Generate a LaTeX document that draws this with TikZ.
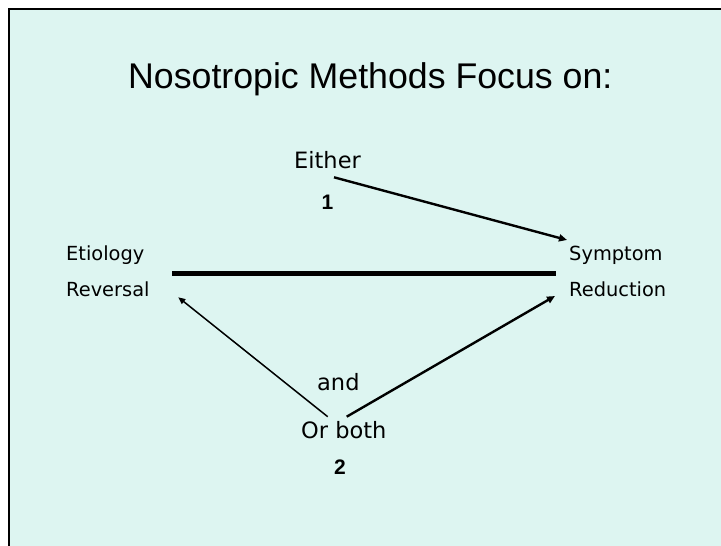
\documentclass[tikz,border=0pt]{standalone}
\usepackage{fontspec}
\setmainfont{Liberation Sans}
\newfontfamily\labelfont{DejaVu Sans}
\usetikzlibrary{arrows.meta}
\definecolor{slidebg}{RGB}{221,245,241}
\tikzset{
  lbl/.style={inner sep=0pt, anchor=base west, font=\labelfont\fontsize{19.4}{22}\selectfont},
  midlbl/.style={inner sep=0pt, anchor=base west, font=\labelfont\fontsize{22.5}{26}\selectfont},
  num/.style={inner sep=0pt, anchor=base, font=\fontsize{21}{24}\selectfont\bfseries},
  arr/.style={-{Triangle[length=8pt,width=7pt]}, line width=2.4pt},
  thinarr/.style={-{Triangle[length=7pt,width=6pt]}, line width=1.5pt}
}
\begin{document}
\begin{tikzpicture}[x=1pt,y=1pt]
\useasboundingbox (0,0) rectangle (721,546);
\fill[slidebg] (9,0) rectangle (721,537);
\draw[line width=2pt] (9,0) -- (9,537) -- (721,537);
\node[inner sep=0pt, anchor=base west, font=\fontsize{35.7}{40}\selectfont] (title) at (128,457) {Nosotropic Methods Focus on:};
\node[lbl] (etio) at (66,285) {Etiology};
\node[lbl] (rev) at (66,249) {Reversal};
\node[lbl] (sym) at (569,285) {Symptom};
\node[lbl] (red) at (569,249) {Reduction};
\node[midlbl] (either) at (294,377) {Either};
\node[num] (one) at (327.5,336) {1};
\node[midlbl] (and) at (317,155.3) {and};
\node[midlbl] (orboth) at (301,107.7) {Or both};
\node[num] (two) at (340,71.7) {2};
\coordinate (lineL) at (172,272.5);
\coordinate (lineR) at (556,272.5);
\coordinate (eitherTail) at (334,368.7);
\coordinate (symTip) at (567,306);
\coordinate (bothL) at (327.7,129.3);
\coordinate (revTip) at (178.3,248.7);
\coordinate (bothR) at (346.7,129.3);
\coordinate (redTip) at (555,250);
\draw[line width=5pt] (lineL) -- (lineR);
\draw[arr] (eitherTail) -- (symTip);
\draw[thinarr] (bothL) -- (revTip);
\draw[arr] (bothR) -- (redTip);
\end{tikzpicture}
\end{document}
